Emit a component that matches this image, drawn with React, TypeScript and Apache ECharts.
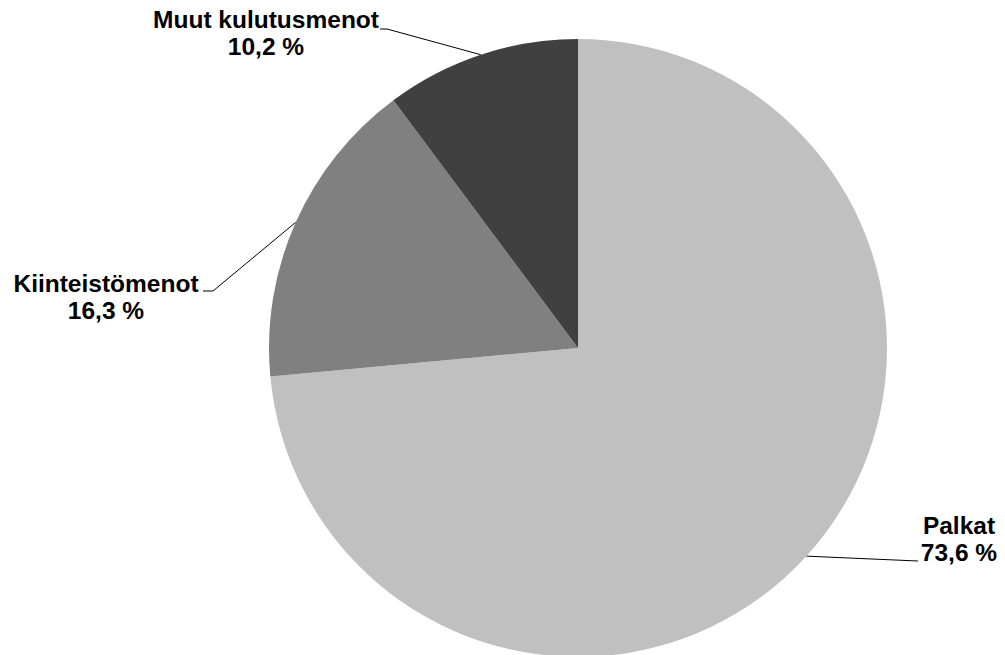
import React, { useEffect, useRef } from "react";
import * as echarts from "echarts";

const categories = ["Palkat", "Kiinteistömenot", "Muut kulutusmenot"];
const values = [73.6, 16.3, 10.2];
const colors = ["#c0c0c0", "#808080", "#404040"];

// label anchor positions (center of label block) and leader line bends
const labelPos: { x: number; y: number; line: number[][] }[] = [
  { x: 959, y: 539, line: [[918, 561]] },
  { x: 106, y: 297, line: [[213, 291], [203, 291]] },
  { x: 266, y: 33, line: [[387, 29], [380, 29]] },
];

export default function App() {
  const ref = useRef<HTMLDivElement>(null);
  useEffect(() => {
    if (!ref.current) return;
    const chart = echarts.init(ref.current, null, { renderer: "svg" });
    chart.setOption({
      animation: false,
      backgroundColor: "#ffffff",
      series: [
        {
          type: "pie",
          center: [578, 348],
          radius: 309,
          startAngle: 90,
          clockwise: true,
          avoidLabelOverlap: false,
          data: categories.map((c, i) => ({
            name: c,
            value: values[i],
            itemStyle: { color: colors[i] },
          })),
          label: {
            show: true,
            position: "outside",
            color: "#000",
            fontFamily: "Arial, 'Liberation Sans', sans-serif",
            fontWeight: "bold",
            fontSize: 24.5,
            lineHeight: 27,
            align: "center",
            formatter: (p: any) =>
              p.name + "\n" + p.value.toFixed(1).replace(".", ",") + " %",
          },
          labelLine: {
            show: true,
            length: 10,
            length2: 10,
            smooth: false,
            lineStyle: { color: "#000", width: 1 },
          },
          labelLayout: (params: any) => {
            const lp = labelPos[params.dataIndex];
            const start = params.labelLinePoints ? params.labelLinePoints[0] : null;
            const res: any = {
              x: lp.x,
              y: lp.y,
              align: "center",
              verticalAlign: "middle",
            };
            if (start) res.labelLinePoints = [start, ...lp.line];
            return res;
          },
        },
      ],
    });
    return () => chart.dispose();
  }, []);
  return (
    <div
      ref={ref}
      style={{ position: "fixed", left: 0, top: 0, width: 1005, height: 655 }}
    />
  );
}
